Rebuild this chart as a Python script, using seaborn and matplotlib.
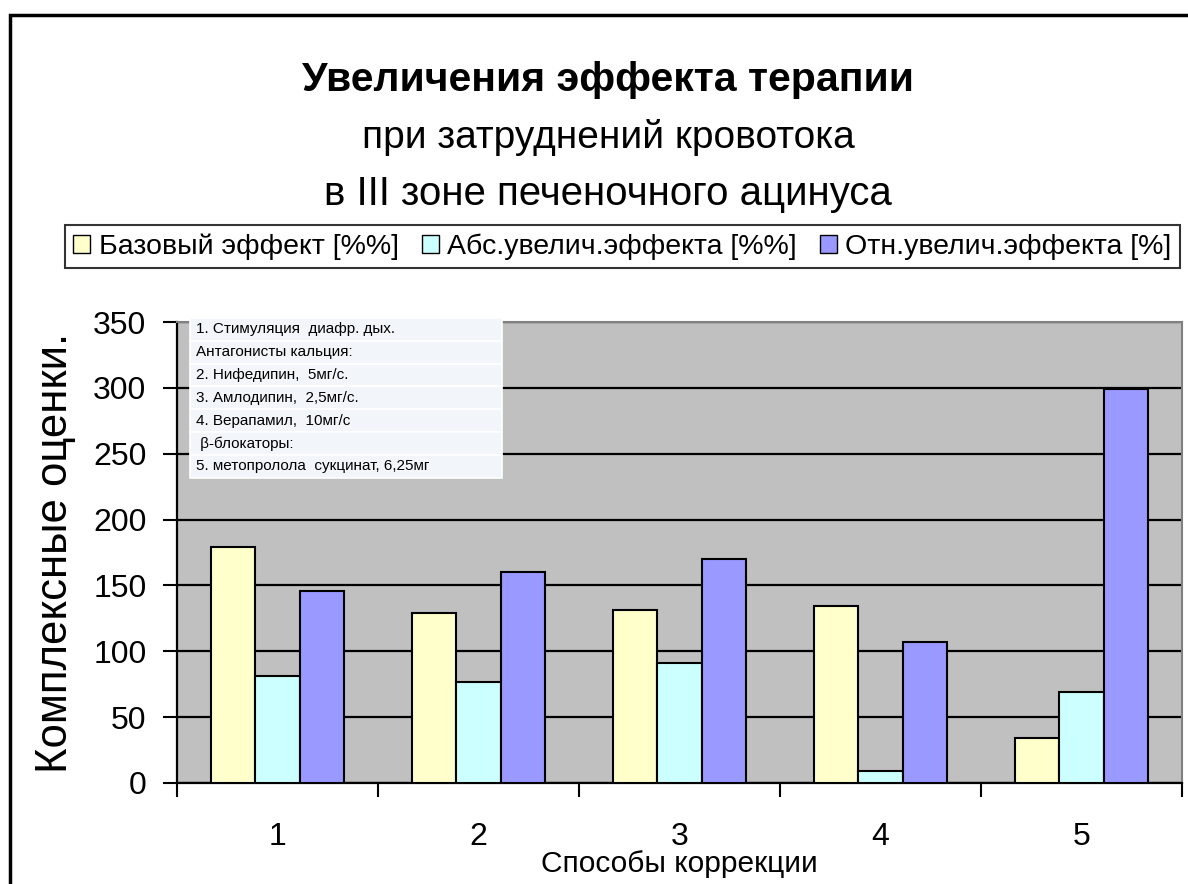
import numpy as np
import matplotlib
matplotlib.use("Agg")
import matplotlib.pyplot as plt
from matplotlib.patches import Rectangle, Patch
import pandas as pd
import seaborn as sns

sns.set_theme(style="white")
plt.rcParams['font.family'] = ['Liberation Sans', 'DejaVu Sans']
plt.rcParams.update({"text.color": "black", "axes.labelcolor": "black",
                     "xtick.color": "black", "ytick.color": "black"})

# data
methods = ["1", "2", "3", "4", "5"]
series_names = ["Базовый эффект [%%]", "Абс.увелич.эффекта [%%]", "Отн.увелич.эффекта [%]"]
base_effect = [179, 129, 131, 134, 34]
abs_gain = [81, 77, 91, 9, 69]
rel_gain = [146, 160, 170, 107, 299]
colors = ["#FFFFCC", "#CCFFFF", "#9999FF"]

inset_lines = [
    "1. Стимуляция  диафр. дых.",
    "Антагонисты кальция:",
    "2. Нифедипин,  5мг/с.",
    "3. Амлодипин,  2,5мг/с.",
    "4. Верапамил,  10мг/с",
    " β-блокаторы:",
    "5. метопролола  сукцинат, 6,25мг",
]

df = pd.DataFrame({
    "method": methods * 3,
    "value": base_effect + abs_gain + rel_gain,
    "series": np.repeat(series_names, len(methods)),
})

fig = plt.figure(figsize=(11.88, 8.84), dpi=100)
ax = fig.add_axes([0.149, 0.1143, 0.846, 0.5214])

sns.barplot(data=df, x="method", y="value", hue="series", palette=colors,
            saturation=1, edgecolor="black", linewidth=1.5, width=0.66, gap=0,
            ax=ax, legend=False, zorder=3)

ax.set_facecolor("#C0C0C0")
ax.set_ylim(0, 350)
ax.set_xlim(-0.5, 4.5)
ax.set_yticks(range(0, 351, 50))
ax.yaxis.grid(True, color="black", linewidth=1.6)
ax.set_axisbelow(True)

# category ticks between groups, labels in the middle
ax.set_xticks(np.arange(-0.5, 5, 1))
ax.set_xticklabels([])
ax.set_xticks(range(5), minor=True)
ax.set_xticklabels(methods, minor=True)
ax.tick_params(axis="x", which="major", direction="out", length=10, width=1.5, color="black", bottom=True)
ax.tick_params(axis="x", which="minor", length=0, pad=28, labelsize=23)
ax.tick_params(axis="y", direction="out", length=10, width=1.5, color="black", left=True, pad=12, labelsize=23)

for s in ["left", "bottom"]:
    ax.spines[s].set_color("black")
    ax.spines[s].set_linewidth(1.6)
for s in ["top", "right"]:
    ax.spines[s].set_color("#808080")
    ax.spines[s].set_linewidth(1.5)

ax.set_xlabel("Способы коррекции", fontsize=21.5, labelpad=-1)
ax.set_ylabel("Комплексные оценки.", fontsize=31.5, labelpad=12)

# inset text table
tbl = ax.table(cellText=[[t] for t in inset_lines], cellLoc="left",
               bbox=[0.013, 0.662, 0.31, 0.347], edges="closed")
tbl.auto_set_font_size(False)
for (r, c), cell in tbl.get_celld().items():
    cell.set_facecolor("#F2F6FA")
    cell.set_edgecolor("white")
    cell.set_linewidth(1.2)
    cell.get_text().set_fontsize(11)
    cell.PAD = 0.02
tbl.set_clip_on(False)
tbl.set_zorder(5)

# titles
fig.text(0.512, 0.909, "Увеличения эффекта терапии", ha="center", va="center",
         fontsize=29.5, fontweight="bold")
fig.text(0.512, 0.845, "при затруднений кровотока", ha="center", va="center", fontsize=28)
fig.text(0.512, 0.781, "в III зоне печеночного ацинуса", ha="center", va="center", fontsize=29)

# legend
handles = [Patch(facecolor=c, edgecolor="black", linewidth=1) for c in colors]
leg = fig.legend(handles, series_names, loc="center", ncol=3,
                 bbox_to_anchor=(0.524, 0.721), fontsize=20.5, frameon=True,
                 fancybox=False, edgecolor="black", handlelength=0.6,
                 handleheight=0.6, handletextpad=0.3, columnspacing=0.8,
                 borderpad=0.3, borderaxespad=0)
leg.get_frame().set_linewidth(1.5)

# outer chart frame
fig.patches.append(Rectangle((10 / 1188, -0.1), 1.2, 0.1 + (884 - 15) / 884,
                             transform=fig.transFigure, fill=False,
                             edgecolor="black", linewidth=2.5))

fig.savefig("out.png", dpi=100)
